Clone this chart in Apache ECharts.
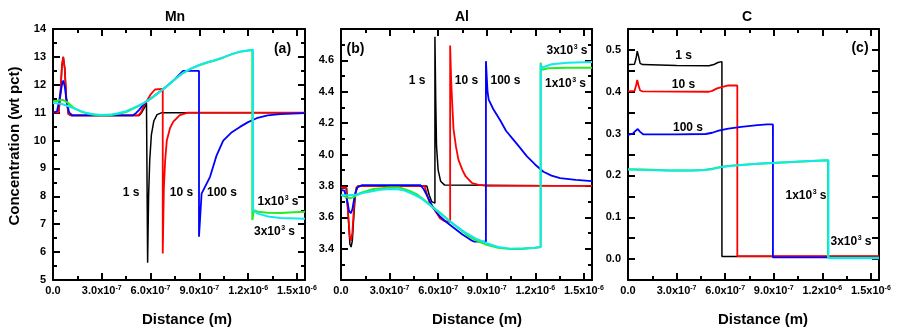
<!DOCTYPE html>
<html>
<head>
<meta charset="utf-8">
<script src="https://cdn.jsdelivr.net/npm/echarts@6/dist/echarts.min.js"></script>
<style>
html,body{margin:0;padding:0;background:#fff;}
#wrap{position:relative;width:900px;height:335px;}
.layer{position:absolute;left:0;top:0;width:900px;height:335px;}
</style>
</head>
<body>
<div id="wrap"><div id="p0" class="layer"></div><div id="p1" class="layer"></div><div id="p2" class="layer"></div></div>
<script>
// Distance in units of 1e-7 m ; concentration in wt pct
const xTickLabels = ['0.0', '3.0x10{sup|-7}', '6.0x10{sup|-7}', '9.0x10{sup|-7}', '1.2x10{sup|-6}', '1.5x10{sup|-6}'];
const panelTitles = ['Mn', 'Al', 'C'];
const seriesNames = ['1 s', '10 s', '100 s', '1x10^3 s', '3x10^3 s'];

// ---- Mn (a) ----
const mn1s = [[0,11.0],[0.35,11.0],[0.45,11.6],[0.55,12.7],[0.63,13.0],[0.72,12.6],[0.82,11.5],[0.95,10.95],[1.1,10.9],[5.3,10.9],[5.45,11.0],[5.6,11.15],[5.75,11.35],[5.82,11.4],[5.82,5.62],[5.88,8.0],[5.95,9.3],[6.05,10.2],[6.2,10.7],[6.4,10.93],[6.7,11.0],[15.5,11.0]];
const mn10s = [[0,11.0],[0.35,11.0],[0.45,11.6],[0.55,12.7],[0.63,13.0],[0.72,12.6],[0.82,11.5],[0.95,10.95],[1.1,10.9],[5.25,10.9],[5.4,11.0],[5.6,11.25],[5.8,11.45],[6.0,11.65],[6.27,11.83],[6.75,11.85],[6.75,5.95],[6.82,8.3],[6.9,9.3],[7.0,10.0],[7.2,10.45],[7.4,10.68],[7.8,10.91],[8.3,11.0],[15.5,11.0]];
const mn100s = [[0,11.0],[0.25,11.05],[0.4,11.5],[0.55,12.0],[0.63,12.15],[0.72,11.95],[0.85,11.35],[1.0,11.0],[1.2,10.9],[4.9,10.9],[5.1,10.98],[5.3,11.1],[5.5,11.25],[5.8,11.42],[6.0,11.5],[6.5,11.72],[7.0,11.95],[7.5,12.2],[8.0,12.5],[8.98,12.5],[8.98,6.55],[9.14,8.1],[9.66,8.7],[10.05,9.45],[10.47,10.0],[11.0,10.3],[11.5,10.49],[12.0,10.66],[12.53,10.8],[13.2,10.9],[13.96,10.95],[15.5,10.98]];
const mn1e3s = [[0,11.4],[0.3,11.43],[0.6,11.46],[0.9,11.36],[1.3,11.16],[1.8,11.02],[2.4,10.93],[3.0,10.9],[3.6,10.92],[4.1,10.97],[4.5,11.02],[5.0,11.16],[5.5,11.31],[6.0,11.5],[6.5,11.72],[7.0,11.95],[7.5,12.2],[8.0,12.42],[8.5,12.58],[9.0,12.7],[9.5,12.8],[10.0,12.88],[10.5,12.98],[11.0,13.1],[11.5,13.18],[12.26,13.25],[12.26,7.15],[12.35,7.5],[12.6,7.45],[13.2,7.41],[14.0,7.4],[14.8,7.43],[15.5,7.45]];
const mn3e3s = [[0,11.35],[0.5,11.32],[1.0,11.22],[1.5,11.1],[2.0,11.0],[2.5,10.94],[3.0,10.92],[3.5,10.93],[4.0,10.98],[4.5,11.05],[5.0,11.18],[5.5,11.32],[6.0,11.5],[6.5,11.72],[7.0,11.95],[7.5,12.2],[8.0,12.43],[8.5,12.59],[9.0,12.71],[9.5,12.81],[10.0,12.89],[10.5,12.99],[11.0,13.1],[11.5,13.19],[12.3,13.26],[12.3,7.5],[12.6,7.38],[13.2,7.28],[14.0,7.22],[15.5,7.2]];

// ---- Al (b) ----
const al1s = [[0,3.786],[0.35,3.786],[0.45,3.6],[0.55,3.43],[0.62,3.41],[0.7,3.45],[0.8,3.62],[0.9,3.76],[1.05,3.8],[5.3,3.8],[5.45,3.74],[5.6,3.7],[5.8,3.69],[5.8,4.75],[5.85,4.35],[5.9,4.05],[6.0,3.9],[6.15,3.83],[6.4,3.805],[15.5,3.8]];
const al10s = [[0,3.79],[0.3,3.79],[0.42,3.65],[0.55,3.47],[0.62,3.45],[0.7,3.5],[0.82,3.7],[0.95,3.79],[1.1,3.8],[5.16,3.8],[5.35,3.73],[5.48,3.69],[5.7,3.66],[6.11,3.594],[6.4,3.575],[6.74,3.57],[6.74,4.695],[6.8,4.48],[6.88,4.3],[6.95,4.16],[7.1,4.05],[7.25,3.967],[7.5,3.9],[7.7,3.86],[8.1,3.818],[8.5,3.807],[9.0,3.8],[15.5,3.8]];
const al100s = [[0,3.775],[0.2,3.77],[0.35,3.72],[0.5,3.64],[0.6,3.625],[0.7,3.65],[0.85,3.74],[1.0,3.79],[1.3,3.805],[4.9,3.805],[5.1,3.78],[5.4,3.72],[5.7,3.66],[6.11,3.605],[6.5,3.57],[7.0,3.53],[7.5,3.49],[8.0,3.456],[8.2,3.445],[8.95,3.445],[8.95,4.595],[9.05,4.4],[9.12,4.35],[9.4,4.29],[9.82,4.22],[10.2,4.15],[10.64,4.095],[11.0,4.05],[11.47,3.99],[12.0,3.935],[12.5,3.89],[13.0,3.865],[13.53,3.85],[14.5,3.838],[15.5,3.83]];
const al1e3s = [[0,3.743],[0.3,3.73],[0.55,3.72],[0.8,3.73],[1.2,3.755],[2.0,3.78],[3.0,3.79],[3.6,3.79],[4.2,3.77],[4.7,3.745],[5.2,3.705],[5.6,3.67],[6.1,3.63],[6.6,3.585],[7.2,3.535],[7.8,3.485],[8.4,3.45],[9.0,3.425],[9.7,3.405],[10.44,3.397],[11.2,3.398],[12.0,3.405],[12.33,3.41],[12.33,4.585],[12.4,4.54],[12.8,4.55],[14.0,4.553],[15.5,4.553]];
const al3e3s = [[0,3.74],[0.5,3.74],[1.0,3.745],[1.6,3.76],[2.4,3.775],[3.0,3.78],[3.5,3.778],[3.93,3.77],[4.5,3.745],[4.96,3.72],[5.58,3.67],[6.1,3.625],[6.61,3.584],[7.1,3.545],[7.64,3.505],[8.3,3.465],[9.0,3.434],[9.7,3.41],[10.44,3.4],[11.3,3.402],[12.0,3.405],[12.33,3.41],[12.33,4.57],[12.45,4.555],[13.0,4.575],[14.0,4.585],[15.5,4.59]];

// ---- C (c) ----
const c1s = [[0,0.465],[0.4,0.466],[0.5,0.48],[0.57,0.497],[0.65,0.485],[0.75,0.468],[0.9,0.465],[3.0,0.463],[5.0,0.462],[5.3,0.465],[5.55,0.47],[5.8,0.472],[5.8,0.006],[15.5,0.006]];
const c10s = [[0,0.401],[0.4,0.402],[0.5,0.415],[0.57,0.428],[0.65,0.415],[0.75,0.403],[0.9,0.401],[5.0,0.4],[5.2,0.402],[5.5,0.408],[5.9,0.412],[6.2,0.415],[6.75,0.415],[6.75,0.007],[15.5,0.007]];
const c100s = [[0,0.297],[0.3,0.3],[0.45,0.306],[0.6,0.311],[0.75,0.304],[0.95,0.298],[3.0,0.298],[4.8,0.299],[5.2,0.302],[5.6,0.307],[6.2,0.312],[7.0,0.316],[8.0,0.32],[8.6,0.322],[8.95,0.322],[8.95,0.004],[15.5,0.004]];
const c1e3s = [[0,0.215],[1.0,0.214],[2.5,0.212],[4.0,0.212],[4.7,0.213],[5.2,0.216],[5.8,0.221],[6.5,0.224],[8.0,0.228],[9.5,0.231],[11.0,0.234],[12.35,0.236],[12.35,0.003],[15.5,0.003]];
const c3e3s = [[0,0.214],[1.0,0.213],[2.5,0.212],[4.0,0.212],[4.7,0.213],[5.2,0.215],[5.8,0.22],[6.5,0.223],[8.0,0.228],[9.5,0.231],[11.0,0.234],[12.38,0.236],[12.38,0.002],[15.5,0.002]];

const panelData = [
  [mn1s, mn10s, mn100s, mn1e3s, mn3e3s],
  [al1s, al10s, al100s, al1e3s, al3e3s],
  [c1s, c10s, c100s, c1e3s, c3e3s]
];
const lineColors = ['#000000', '#ff0000', '#0000ff', '#22ee22', '#11e8ee'];
const lineWidths = [1.5, 1.8, 1.8, 2, 2];

const grids = [
  {left: 53, top: 29, width: 252, height: 251},
  {left: 341, top: 29, width: 251, height: 251},
  {left: 628, top: 29, width: 251, height: 251}
];
const yCfg = [
  {min: 5, max: 14, interval: 1, minor: 2, fmt: v => String(Math.round(v))},
  {min: 3.2, max: 4.8, interval: 0.2, minor: 2, fmt: v => (Math.abs(v-3.2)<1e-6 || Math.abs(v-4.8)<1e-6) ? '' : v.toFixed(1)},
  {min: -0.05, max: 0.55, interval: 0.05, minor: 0, fmt: v => { const k = v*10; return (v > -1e-6 && v < 0.5+1e-6 && Math.abs(k-Math.round(k))<1e-6) ? v.toFixed(1) : ''; }}
];

const font = 'Liberation Sans, Arial, sans-serif';
function mkLine() { return {show: true, onZero: false, lineStyle: {color: '#000', width: 2}}; }
function mkTick() { return {show: true, inside: true, length: 7, lineStyle: {color: '#000', width: 2}}; }
function mkMinor(n) { return {show: n > 0, splitNumber: 2, length: 4, lineStyle: {color: '#000', width: 2}}; }

function txt(x, y, text, size, align, extra) {
  return Object.assign({
    type: 'text', x: x, y: y, z: 100, silent: true,
    style: {text: text, x: 0, y: 0, fill: '#000', fontSize: size, fontWeight: 'bold', fontFamily: font,
      align: align || 'center', verticalAlign: 'middle', textAlign: align || 'center', textVerticalAlign: 'middle'}
  }, extra || {});
}
const mctx = document.createElement('canvas').getContext('2d');
function tw(s, size) { mctx.font = 'bold ' + size + 'px "Liberation Sans", Arial, sans-serif'; return mctx.measureText(s).width; }
function supLabel(cx, cy, base, sup, tail, size) {
  const sSize = 7;
  const wb = tw(base, size), ws = tw(sup, sSize), wt = tw(tail, size);
  const x0 = cx - (wb + ws + 0.5 + wt) / 2;
  return [
    txt(x0, cy, base, size, 'left'),
    txt(x0 + wb + 0.5, cy - 4, sup, sSize, 'left'),
    txt(x0 + wb + ws + 0.5, cy, tail, size, 'left')
  ];
}
const annSize = 12;
const panelGraphics = [
  [txt(175, 17, panelTitles[0], 14),
   txt(14.5, 146, 'Concentration (wt pct)', 15, 'center', {rotation: Math.PI/2}),
   txt(187, 320, 'Distance (m)', 15),
   txt(282.5, 49, '(a)', 14), txt(131, 193, '1 s', annSize), txt(181.5, 193, '10 s', annSize), txt(222, 193, '100 s', annSize),
   ...supLabel(278, 202, '1x10', '3', ' s', annSize), ...supLabel(274.5, 232, '3x10', '3', ' s', annSize)],
  [txt(462, 17, panelTitles[1], 14), txt(477, 320, 'Distance (m)', 15),
   txt(355.5, 49, '(b)', 14), txt(417, 81, '1 s', annSize), txt(466.5, 81, '10 s', annSize), txt(505.5, 81, '100 s', annSize),
   ...supLabel(567, 51, '3x10', '3', ' s', annSize), ...supLabel(565.5, 84, '1x10', '3', ' s', annSize)],
  [txt(747, 17, panelTitles[2], 14), txt(763, 320, 'Distance (m)', 15),
   txt(860, 48, '(c)', 14), txt(683.5, 56, '1 s', annSize), txt(683.5, 85, '10 s', annSize), txt(688, 127.5, '100 s', annSize),
   ...supLabel(806, 196, '1x10', '3', ' s', annSize), ...supLabel(851, 242, '3x10', '3', ' s', annSize)]
];

// one ECharts instance per panel, stacked on transparent layers
for (let i = 0; i < 3; i++) {
  const yc = yCfg[i];
  const xAxes = [
    {type: 'value', min: 0, max: 15.5, interval: 3, position: 'bottom',
      axisLine: mkLine(), axisTick: mkTick(), minorTick: mkMinor(2), splitLine: {show: false},
      axisLabel: {show: true, margin: 5, color: '#000', fontSize: 11, fontWeight: 'bold', fontFamily: font,
        formatter: v => { const k = v/3; return Math.abs(k-Math.round(k))<1e-6 ? xTickLabels[Math.round(k)] : ''; },
        rich: {sup: {fontSize: 7, fontWeight: 'bold', fontFamily: font, color: '#000', verticalAlign: 'top'}}}},
    {type: 'value', min: 0, max: 15.5, interval: 3, position: 'top',
      axisLine: mkLine(), axisTick: mkTick(), minorTick: mkMinor(2), splitLine: {show: false}, axisLabel: {show: false}}
  ];
  const yAxes = [
    {type: 'value', min: yc.min, max: yc.max, interval: yc.interval, position: 'left',
      axisLine: mkLine(), axisTick: mkTick(), minorTick: mkMinor(yc.minor), splitLine: {show: false},
      axisLabel: {show: true, margin: 7, color: '#000', fontSize: 11, fontWeight: 'bold', fontFamily: font, formatter: yc.fmt}},
    {type: 'value', min: yc.min, max: yc.max, interval: yc.interval, position: 'right',
      axisLine: mkLine(), axisTick: mkTick(), minorTick: mkMinor(yc.minor), splitLine: {show: false}, axisLabel: {show: false}}
  ];
  const series = panelData[i].map((d, j) => ({
    type: 'line', name: seriesNames[j], xAxisIndex: 0, yAxisIndex: 0,
    data: d, showSymbol: false, symbol: 'none', smooth: false,
    lineStyle: {color: lineColors[j], width: lineWidths[j]},
    itemStyle: {color: lineColors[j]}, z: 2 + j, silent: true
  }));
  const chart = echarts.init(document.getElementById('p' + i), null, {renderer: 'canvas'});
  chart.setOption({
    animation: false,
    grid: grids[i],
    xAxis: xAxes,
    yAxis: yAxes,
    series: series,
    graphic: panelGraphics[i]
  });
}
</script>
</body>
</html>
